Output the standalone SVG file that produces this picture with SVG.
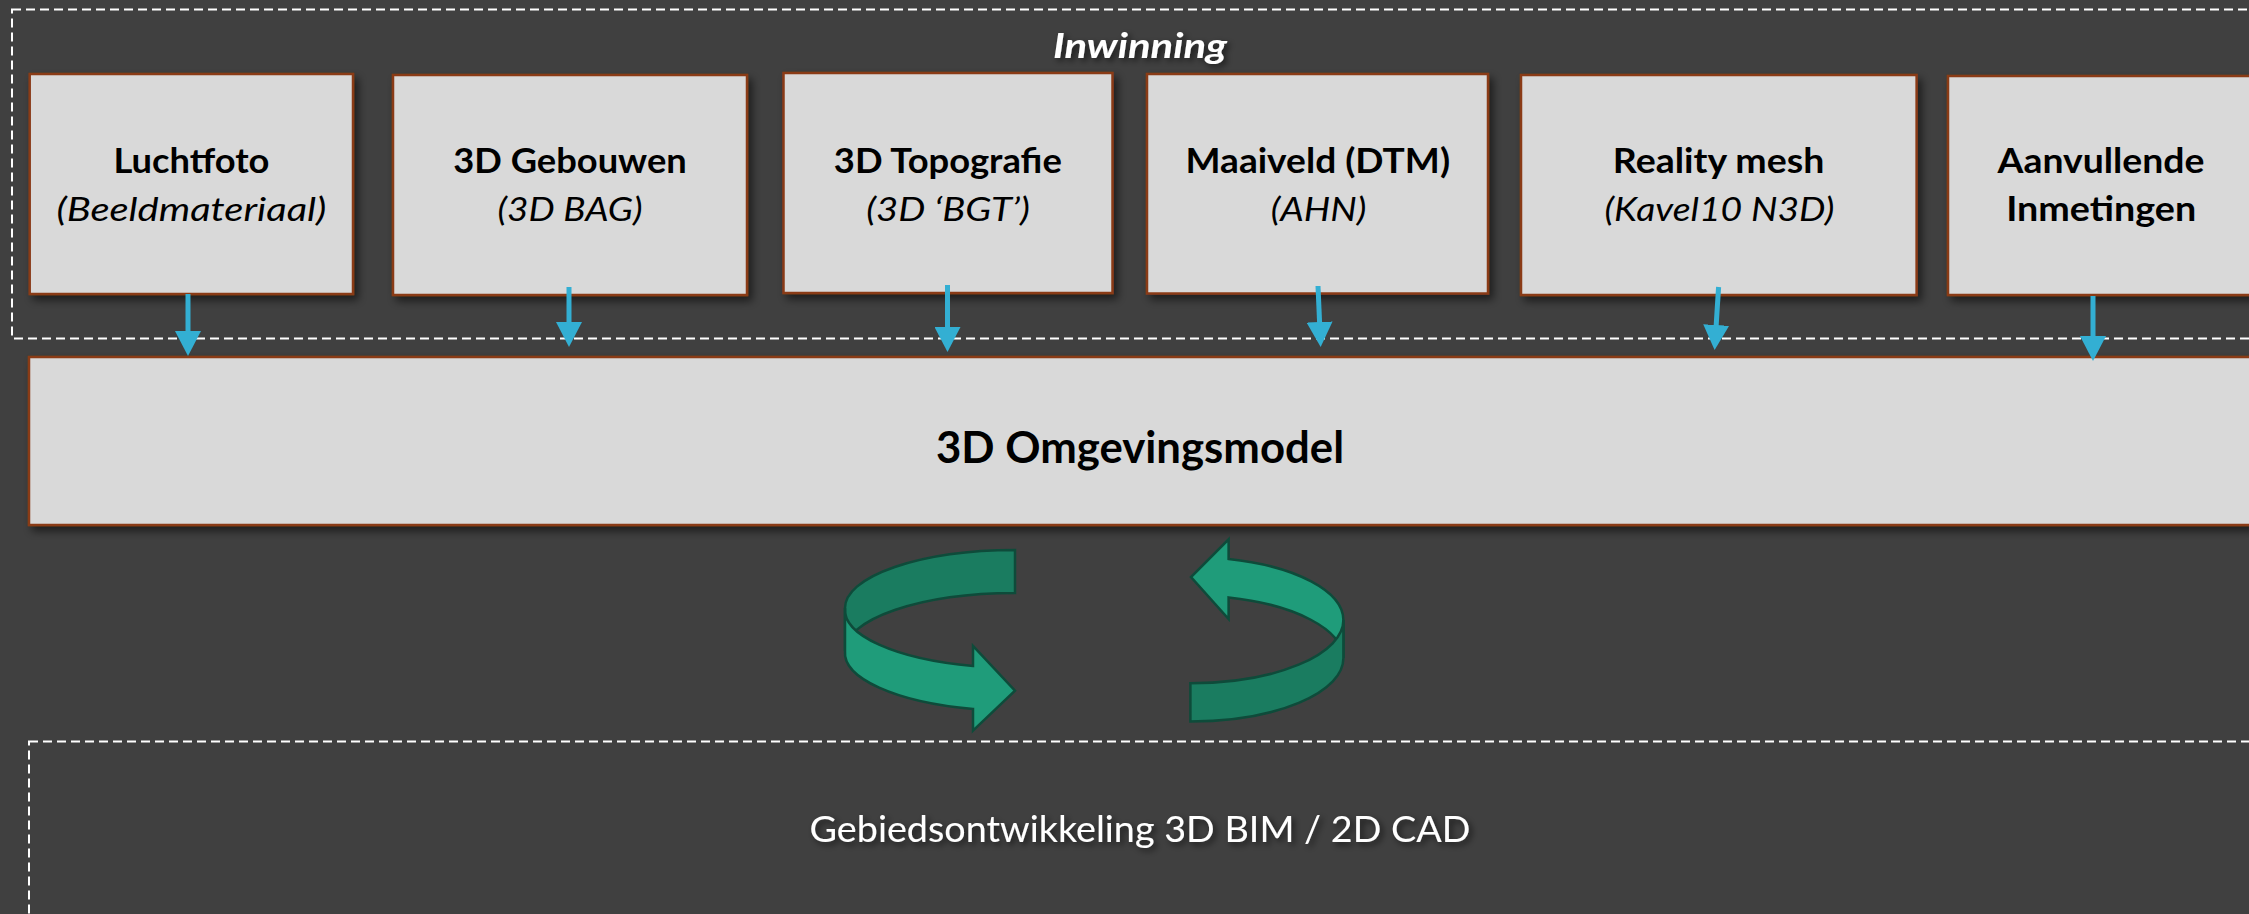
<svg xmlns="http://www.w3.org/2000/svg" width="2249" height="914" viewBox="0 0 2249 914">
<defs>
<style>
.bg{fill:#404040}
.box{fill:#d9d9d9;stroke:#8a3b17;stroke-width:2.5;filter:url(#sh)}
.dash{fill:none;stroke:#ffffff;stroke-width:2;stroke-dasharray:9 5}
.t{font-family:Lato,"Open Sans","Liberation Sans",sans-serif;font-size:33.5px;fill:#000;text-anchor:middle}
.b{font-weight:bold}
.i{font-style:italic}
.conn{stroke:#33afd3;stroke-width:5;fill:none;marker-end:url(#ah)}
.lt{fill:#1f9c7a;stroke:#0e4b3a;stroke-width:2.5;stroke-linejoin:miter}
.dk{fill:#1a7c60;stroke:#0e4b3a;stroke-width:2.5;stroke-linejoin:miter}
</style>
<filter id="sh" x="-10%" y="-10%" width="130%" height="130%">
<feDropShadow dx="4" dy="5" stdDeviation="4" flood-color="#000" flood-opacity="0.55"/>
</filter>
<filter id="tsh" x="-10%" y="-30%" width="130%" height="180%">
<feDropShadow dx="3" dy="3" stdDeviation="3" flood-color="#000" flood-opacity="0.6"/>
</filter>
<marker id="ah" markerUnits="userSpaceOnUse" viewBox="0 0 25 26" markerWidth="25" markerHeight="26" refX="3" refY="13" orient="auto">
<path d="M0,0 L25,13 L0,26 Z" fill="#33afd3"/>
</marker>
</defs>
<rect class="bg" x="0" y="0" width="2249" height="914"/>

<g id="group-inwinning">
<rect class="dash" x="12" y="9.5" width="2270" height="329"/>
<text class="t b i" x="1140" y="57.7" font-size="34" style="fill:#fff;font-size:34px" filter="url(#tsh)" textLength="174" lengthAdjust="spacingAndGlyphs">Inwinning</text>
</g>

<g id="node-luchtfoto">
<rect class="box" x="29.7" y="74" width="323.3" height="220"/>
<text class="t b" x="191.4" y="172.7" textLength="156" lengthAdjust="spacingAndGlyphs">Luchtfoto</text>
<text class="t i" x="191.4" y="220.7" textLength="270" lengthAdjust="spacingAndGlyphs">(Beeldmateriaal)</text>
</g>

<g id="node-3d-gebouwen">
<rect class="box" x="393" y="75" width="354" height="220"/>
<text class="t b" x="570" y="172.7" textLength="233.5" lengthAdjust="spacingAndGlyphs">3D Gebouwen</text>
<text class="t i" x="570" y="220.7" textLength="145" lengthAdjust="spacingAndGlyphs">(3D BAG)</text>
</g>

<g id="node-3d-topografie">
<rect class="box" x="783.5" y="73" width="329" height="220"/>
<text class="t b" x="947.8" y="172.7" textLength="228" lengthAdjust="spacingAndGlyphs">3D Topografie</text>
<text class="t i" x="948" y="220.7" textLength="163.6" lengthAdjust="spacingAndGlyphs">(3D &#8216;BGT&#8217;)</text>
</g>

<g id="node-maaiveld">
<rect class="box" x="1147" y="74" width="341" height="219.5"/>
<text class="t b" x="1317.8" y="172.7" textLength="264.6" lengthAdjust="spacingAndGlyphs">Maaiveld (DTM)</text>
<text class="t i" x="1318.5" y="220.7" textLength="95.7" lengthAdjust="spacingAndGlyphs">(AHN)</text>
</g>

<g id="node-reality-mesh">
<rect class="box" x="1521" y="75" width="395.6" height="220"/>
<text class="t b" x="1718.6" y="172.7" textLength="211.5" lengthAdjust="spacingAndGlyphs">Reality mesh</text>
<text class="t i" x="1719.4" y="220.7" textLength="230" lengthAdjust="spacingAndGlyphs">(Kavel10 N3D)</text>
</g>

<g id="node-aanvullende">
<rect class="box" x="1948" y="76" width="306" height="219"/>
<text class="t b" x="2101" y="173.3" textLength="207" lengthAdjust="spacingAndGlyphs">Aanvullende</text>
<text class="t b" x="2101.2" y="221" textLength="190" lengthAdjust="spacingAndGlyphs">Inmetingen</text>
</g>

<g id="node-omgevingsmodel">
<rect class="box" x="29" y="357" width="2222" height="168"/>
<text class="t b" x="1140" y="463.3" style="font-size:44px" textLength="408" lengthAdjust="spacingAndGlyphs">3D Omgevingsmodel</text>
</g>

<g id="connectors">
<line class="conn" x1="188" y1="294" x2="188" y2="334"/>
<line class="conn" x1="569" y1="287" x2="569" y2="325"/>
<line class="conn" x1="947.5" y1="285" x2="947.5" y2="330"/>
<line class="conn" x1="1318" y1="286" x2="1319.7" y2="325"/>
<line class="conn" x1="1718.6" y1="287" x2="1716" y2="328"/>
<line class="conn" x1="2093" y1="296" x2="2093" y2="339"/>
</g>

<g id="cycle-arrows">
<path class="dk" d="M1015,550 A170 58 0 0 0 845,608 L845,651 A170 58 0 0 1 1015,593 Z"/>
<path class="lt" d="M845,608 A170 58 0 0 0 973,666 L973,646 L1015,690.7 L973,730.7 L973,709 A170 58 0 0 1 845,651 Z"/>
<path class="lt" d="M1228.6,559 A153.4 63.3 0 0 1 1343.4,620 L1343.4,658 A153.4 63.3 0 0 0 1228.6,597.5 L1228.6,619 L1191,577 L1228.6,539.3 Z"/>
<path class="dk" d="M1343.4,620 A153.4 63.3 0 0 1 1190.4,683.3 L1190.4,721.5 A153.4 63.3 0 0 0 1343.4,658 Z"/>
</g>

<g id="group-gebiedsontwikkeling">
<rect class="dash" x="29" y="741.5" width="2260" height="220"/>
<text class="t" x="1140" y="841.7" style="fill:#fff;font-size:37px" filter="url(#tsh)" textLength="661" lengthAdjust="spacingAndGlyphs">Gebiedsontwikkeling 3D BIM / 2D CAD</text>
</g>
</svg>
